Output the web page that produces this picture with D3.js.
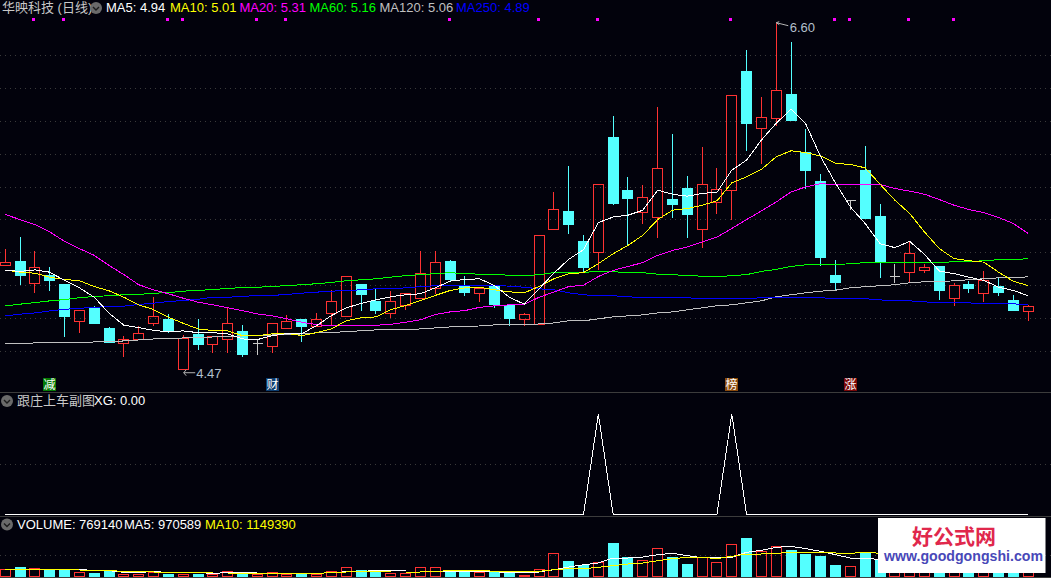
<!DOCTYPE html>
<html>
<head>
<meta charset="utf-8">
<script src="https://cdn.jsdelivr.net/npm/d3@7"></script>
<style>
	html, body { margin: 0; padding: 0; background: #02020c; overflow: hidden; }
	text { font-family: "Liberation Sans", "Noto Sans CJK SC", sans-serif; font-size: 13px; }
</style>
</head>
<body>
<svg id="chart" width="1051" height="578"></svg>
<script>
// daily candles, oldest first
var open = [5.125, 5.146, 5.014, 5.066, 5.006, 4.782, 4.867, 4.744, 4.648, 4.673, 4.770, 4.799, 4.490, 4.706, 4.642, 4.673, 4.726, 4.648, 4.630, 4.740, 4.799, 4.752, 4.831, 4.815, 5.006, 4.908, 4.831, 4.880, 4.922, 4.985, 5.146, 4.999, 4.953, 4.999, 4.878, 4.794, 4.768, 5.342, 5.450, 5.267, 5.202, 5.900, 5.578, 5.446, 5.415, 5.523, 5.590, 5.342, 5.506, 5.576, 6.302, 5.953, 6.014, 6.162, 5.809, 5.631, 5.066, 5.521, 5.699, 5.419, 5.059, 5.080, 5.093, 5.115, 4.922, 5.006, 4.953, 4.998, 4.914, 4.843];
var close = [5.144, 5.060, 5.113, 5.030, 4.817, 4.852, 4.774, 4.657, 4.675, 4.712, 4.813, 4.726, 4.681, 4.647, 4.693, 4.772, 4.586, 4.648, 4.772, 4.785, 4.756, 4.797, 4.906, 5.059, 4.945, 4.853, 4.906, 4.955, 5.077, 5.144, 5.036, 4.957, 4.985, 4.884, 4.805, 4.827, 5.308, 5.466, 5.371, 5.109, 5.618, 5.500, 5.529, 5.539, 5.710, 5.492, 5.432, 5.618, 5.587, 6.154, 5.987, 6.020, 6.184, 6.006, 5.701, 5.172, 5.020, 5.521, 5.409, 5.146, 5.059, 5.199, 5.113, 4.969, 5.004, 4.987, 5.034, 4.959, 4.849, 4.876];
var high = [5.225, 5.298, 5.212, 5.115, 5.006, 4.852, 4.878, 4.754, 4.701, 4.760, 4.933, 4.835, 4.706, 4.805, 4.693, 4.866, 4.768, 4.683, 4.772, 4.829, 4.799, 4.841, 4.981, 5.059, 5.006, 4.985, 4.975, 4.955, 5.212, 5.212, 5.158, 5.066, 4.985, 4.999, 4.878, 4.841, 5.308, 5.572, 5.730, 5.310, 5.618, 6.034, 5.663, 5.614, 6.089, 5.925, 5.669, 5.845, 5.716, 6.154, 6.434, 6.148, 6.60, 6.484, 5.955, 5.681, 5.158, 5.521, 5.852, 5.499, 5.135, 5.272, 5.135, 5.115, 5.022, 5.030, 5.091, 5.059, 4.945, 4.890];
var low = [5.125, 5.006, 4.959, 4.969, 4.695, 4.715, 4.774, 4.657, 4.569, 4.673, 4.758, 4.720, 4.490, 4.616, 4.598, 4.598, 4.573, 4.586, 4.598, 4.740, 4.665, 4.752, 4.768, 4.815, 4.853, 4.831, 4.807, 4.855, 4.922, 4.951, 5.030, 4.939, 4.908, 4.867, 4.762, 4.762, 4.768, 5.342, 5.316, 5.079, 5.097, 5.492, 5.243, 5.379, 5.293, 5.415, 5.293, 5.233, 5.439, 5.405, 5.823, 5.744, 5.973, 6.004, 5.592, 5.125, 4.973, 5.466, 5.409, 5.048, 5.020, 5.020, 5.080, 4.916, 4.878, 4.957, 4.908, 4.939, 4.849, 4.788];

// price moving averages
var ma5 = [5.091, 5.085, 5.094, 5.080, 5.030, 4.985, 4.928, 4.831, 4.758, 4.744, 4.727, 4.718, 4.724, 4.713, 4.713, 4.706, 4.675, 4.671, 4.695, 4.707, 4.707, 4.756, 4.817, 4.864, 4.890, 4.912, 4.931, 4.943, 4.949, 4.985, 5.026, 5.036, 5.040, 4.999, 4.928, 4.886, 4.979, 5.074, 5.158, 5.217, 5.381, 5.415, 5.426, 5.456, 5.578, 5.553, 5.541, 5.558, 5.565, 5.699, 5.760, 5.882, 5.984, 6.069, 5.978, 5.780, 5.620, 5.476, 5.375, 5.253, 5.229, 5.267, 5.188, 5.087, 5.071, 5.050, 5.030, 4.989, 4.969, 4.937];
var ma10 = [5.093, 5.080, 5.074, 5.050, 5.036, 5.028, 4.993, 4.967, 4.928, 4.882, 4.853, 4.807, 4.770, 4.736, 4.726, 4.724, 4.695, 4.695, 4.706, 4.709, 4.695, 4.713, 4.736, 4.786, 4.803, 4.809, 4.852, 4.878, 4.908, 4.939, 4.969, 4.985, 4.989, 4.973, 4.961, 4.955, 4.993, 5.040, 5.071, 5.077, 5.132, 5.192, 5.243, 5.304, 5.399, 5.456, 5.466, 5.486, 5.513, 5.622, 5.659, 5.704, 5.780, 5.817, 5.805, 5.785, 5.740, 5.734, 5.713, 5.614, 5.517, 5.436, 5.324, 5.223, 5.162, 5.150, 5.141, 5.080, 5.024, 4.999];
var ma20 = [5.430, 5.399, 5.369, 5.324, 5.267, 5.223, 5.182, 5.121, 5.065, 5.004, 4.973, 4.949, 4.922, 4.898, 4.882, 4.864, 4.847, 4.827, 4.815, 4.797, 4.776, 4.762, 4.754, 4.754, 4.758, 4.758, 4.764, 4.776, 4.791, 4.823, 4.839, 4.847, 4.867, 4.876, 4.882, 4.884, 4.928, 4.959, 4.993, 5.001, 5.054, 5.091, 5.115, 5.138, 5.182, 5.212, 5.233, 5.263, 5.293, 5.345, 5.399, 5.452, 5.506, 5.567, 5.598, 5.618, 5.610, 5.612, 5.612, 5.612, 5.588, 5.572, 5.553, 5.521, 5.486, 5.460, 5.442, 5.412, 5.375, 5.314];
var ma60 = [4.876, 4.886, 4.896, 4.906, 4.914, 4.925, 4.933, 4.937, 4.943, 4.945, 4.953, 4.955, 4.965, 4.969, 4.975, 4.981, 4.987, 4.989, 4.993, 4.999, 5.004, 5.010, 5.018, 5.028, 5.034, 5.040, 5.050, 5.059, 5.065, 5.071, 5.077, 5.071, 5.068, 5.065, 5.062, 5.059, 5.065, 5.077, 5.080, 5.080, 5.083, 5.083, 5.077, 5.077, 5.068, 5.065, 5.059, 5.056, 5.052, 5.059, 5.065, 5.085, 5.097, 5.115, 5.125, 5.125, 5.125, 5.132, 5.138, 5.138, 5.138, 5.138, 5.138, 5.138, 5.144, 5.144, 5.150, 5.156, 5.156, 5.162];
var ma120 = [4.645, 4.645, 4.651, 4.651, 4.651, 4.651, 4.657, 4.657, 4.663, 4.669, 4.675, 4.675, 4.681, 4.681, 4.687, 4.687, 4.693, 4.693, 4.699, 4.699, 4.706, 4.712, 4.712, 4.721, 4.724, 4.730, 4.730, 4.730, 4.736, 4.742, 4.748, 4.748, 4.754, 4.760, 4.760, 4.760, 4.766, 4.772, 4.785, 4.785, 4.797, 4.809, 4.815, 4.821, 4.833, 4.839, 4.852, 4.864, 4.876, 4.882, 4.894, 4.906, 4.931, 4.943, 4.955, 4.965, 4.971, 4.985, 4.992, 4.998, 5.004, 5.016, 5.022, 5.022, 5.028, 5.034, 5.040, 5.046, 5.046, 5.052];
var ma250 = [4.815, 4.825, 4.833, 4.845, 4.855, 4.861, 4.867, 4.872, 4.874, 4.884, 4.892, 4.902, 4.908, 4.916, 4.928, 4.928, 4.933, 4.939, 4.939, 4.945, 4.953, 4.959, 4.965, 4.969, 4.973, 4.979, 4.979, 4.985, 4.992, 4.998, 5.001, 5.001, 5.001, 5.001, 4.995, 4.989, 4.979, 4.973, 4.955, 4.943, 4.937, 4.937, 4.931, 4.925, 4.925, 4.925, 4.925, 4.919, 4.919, 4.919, 4.919, 4.925, 4.925, 4.925, 4.925, 4.925, 4.919, 4.919, 4.919, 4.912, 4.906, 4.906, 4.900, 4.894, 4.894, 4.894, 4.888, 4.888, 4.888, 4.882];

// the XG sub chart
var xg = [0, 0, 0, 0, 0, 0, 0, 0, 0, 0, 0, 0, 0, 0, 0, 0, 0, 0, 0, 0, 0, 0, 0, 0, 0, 0, 0, 0, 0, 0, 0, 0, 0, 0, 0, 0, 0, 0, 0, 0, 1, 0, 0, 0, 0, 0, 0, 0, 0, 1, 0, 0, 0, 0, 0, 0, 0, 0, 0, 0, 0, 0, 0, 0, 0, 0, 0, 0, 0, 0];

// volume pane
var volume = [770000, 1000000, 870000, 730000, 730000, 470000, 400000, 570000, 330000, 270000, 500000, 330000, 300000, 330000, 270000, 570000, 370000, 300000, 470000, 330000, 330000, 330000, 630000, 970000, 670000, 630000, 430000, 370000, 970000, 970000, 630000, 500000, 470000, 570000, 470000, 230000, 770000, 2370000, 1600000, 1230000, 1470000, 3400000, 1970000, 1670000, 2870000, 2000000, 1300000, 1970000, 1470000, 3270000, 3900000, 2570000, 3070000, 2700000, 2300000, 2100000, 1200000, 1070000, 2500000, 1700000, 1600000, 1700000, 900000, 1500000, 940000, 700000, 1200000, 900000, 1280000, 769140];
var volMa5 = [770000, 770000, 770000, 770000, 770000, 770000, 630000, 630000, 470000, 470000, 530000, 470000, 470000, 430000, 370000, 430000, 470000, 400000, 370000, 370000, 370000, 370000, 430000, 530000, 570000, 630000, 630000, 600000, 600000, 600000, 570000, 570000, 570000, 530000, 430000, 400000, 500000, 730000, 1000000, 1230000, 1400000, 1900000, 1900000, 2000000, 2230000, 2370000, 2130000, 1930000, 1900000, 1970000, 2470000, 2670000, 2970000, 3070000, 2830000, 2570000, 2230000, 1900000, 1900000, 1730000, 1600000, 1500000, 1400000, 1300000, 1350000, 1200000, 1100000, 1050000, 1000000, 970589];
var volMa10 = [730000, 730000, 730000, 730000, 730000, 700000, 670000, 630000, 570000, 530000, 500000, 470000, 430000, 430000, 400000, 400000, 370000, 370000, 370000, 370000, 370000, 370000, 430000, 500000, 530000, 530000, 500000, 500000, 500000, 530000, 670000, 670000, 670000, 570000, 570000, 530000, 570000, 730000, 830000, 830000, 970000, 1130000, 1300000, 1400000, 1630000, 1830000, 1970000, 1970000, 1830000, 2070000, 2300000, 2300000, 2370000, 2470000, 2470000, 2470000, 2400000, 2370000, 2470000, 2370000, 2250000, 2100000, 1950000, 1800000, 1650000, 1500000, 1400000, 1300000, 1220000, 1149390];

var priceTicks = [6.40, 6.20, 6.00, 5.80, 5.60, 5.40, 5.20, 5.00, 4.80, 4.60];
var signalDays = [2, 4, 11, 12, 17, 19, 30, 36, 40, 49, 56, 57, 61, 64];
var eventDays = [3, 18, 49, 57];
var eventNames = ["减", "财", "榜", "涨"];
var eventColors = ["#067a06", "#0c3d70", "#8a4a0c", "#7a0808"];

var BG = "#02020c", RED = "#ff3232", CYAN = "#54ffff", GRID = "#3a3a3a", LINE = "#3c3c3c";

var svg = d3.select("#chart");
svg.append("rect").attr("width", 1051).attr("height", 578).attr("fill", BG);

var x = d3.scaleLinear().domain([0, 69]).range([5.3, 1028.3]);
var y = d3.scaleLinear().domain([6.60, 4.60]).range([21.7, 351.3]);
var yXg = d3.scaleLinear().domain([0, 1]).range([514.5, 414]);
var yVol = d3.scaleLinear().domain([0, 3900000]).range([577, 538]);

function cx(i) {
	return Math.floor(x(i)) + 0.5;
}

function px(v) {
	return Math.round(v) + 0.5;
}

// dotted grid, one axis per pane
function grid(scale, ticks) {
	var g = svg.append("g").call(d3.axisRight(scale).tickValues(ticks).tickSize(1051).tickFormat(""));
	g.select(".domain").remove();
	g.selectAll("line")
		.attr("stroke", GRID)
		.attr("stroke-dasharray", "1 4")
		.attr("shape-rendering", "crispEdges");
}
grid(y, priceTicks);
grid(yXg, [0.5]);
grid(yVol, [2200000]);

// pane separators
[392, 516, 577].forEach(function(v) {
	svg.append("line")
		.attr("x1", 0).attr("x2", 1051)
		.attr("y1", v + 0.5).attr("y2", v + 0.5)
		.attr("stroke", LINE);
});

// candles
var days = d3.range(open.length);
var candle = svg.append("g").attr("shape-rendering", "crispEdges");

days.forEach(function(i) {
	var up = close[i] > open[i],
		flat = close[i] === open[i],
		color = flat ? "#c8c8c8" : (up ? RED : CYAN),
		top = px(y(Math.max(open[i], close[i]))),
		bottom = px(y(Math.min(open[i], close[i])));

	if (px(y(high[i])) < top) {
		candle.append("line")
			.attr("x1", cx(i)).attr("x2", cx(i))
			.attr("y1", px(y(high[i]))).attr("y2", top)
			.attr("stroke", color);
	}
	if (px(y(low[i])) > bottom) {
		candle.append("line")
			.attr("x1", cx(i)).attr("x2", cx(i))
			.attr("y1", bottom).attr("y2", px(y(low[i])))
			.attr("stroke", color);
	}

	if (flat) {
		candle.append("line")
			.attr("x1", cx(i) - 5).attr("x2", cx(i) + 5)
			.attr("y1", top).attr("y2", top)
			.attr("stroke", color);
	} else if (up) {
		candle.append("rect")
			.attr("x", cx(i) - 5).attr("width", 10)
			.attr("y", top).attr("height", bottom - top)
			.attr("fill", "none")
			.attr("stroke", color);
	} else {
		candle.append("rect")
			.attr("x", cx(i) - 5.5).attr("width", 11)
			.attr("y", top - 0.5).attr("height", bottom - top + 1)
			.attr("fill", color);
	}
});

function drawLine(values, scale, color) {
	svg.append("path")
		.attr("d", d3.line()
			.x(function(d, i) { return x(i); })
			.y(function(d) { return scale(d); })(values))
		.attr("fill", "none")
		.attr("stroke", color)
		.attr("stroke-width", 1)
		.attr("shape-rendering", "crispEdges");
}

drawLine(ma120, y, "#c0c0c0");
drawLine(ma250, y, "#0000ff");
drawLine(ma60, y, "#00ff00");
drawLine(ma20, y, "#ff00ff");
drawLine(ma10, y, "#ffff00");
drawLine(ma5, y, "#ffffff");

// signal dots along the top
svg.append("g").selectAll("rect")
	.data(signalDays)
	.join("rect")
	.attr("x", function(d) { return Math.floor(x(d)) - 2; })
	.attr("y", 18)
	.attr("width", 3)
	.attr("height", 3)
	.attr("fill", "#ff00ff");

// event tags above the separator
svg.append("g").selectAll("rect")
	.data(eventDays)
	.join("rect")
	.attr("x", function(d) { return Math.floor(x(d)) - 6; })
	.attr("y", 378)
	.attr("width", 13)
	.attr("height", 13)
	.attr("fill", function(d, i) { return eventColors[i]; });

svg.append("g").selectAll("text")
	.data(eventDays)
	.join("text")
	.attr("x", function(d) { return Math.floor(x(d)) + 0.5; })
	.attr("y", 389)
	.attr("text-anchor", "middle")
	.attr("fill", "#ffffff")
	.style("font-size", "12px")
	.text(function(d, i) { return eventNames[i]; });

// high and low callouts
var hiDay = 52, loDay = 12;
svg.append("path")
	.attr("d", "M" + (x(hiDay) + 3) + " " + y(6.60) + "L" + x(hiDay) + " " + (y(6.60) + 1) + "L" + (x(hiDay) + 3) + " " + (y(6.60) + 3) + "M" + x(hiDay) + " " + (y(6.60) + 1) + "L" + (x(hiDay) + 12) + " " + (y(6.60) + 4))
	.attr("fill", "none")
	.attr("stroke", "#b4b4b4");
svg.append("text")
	.attr("x", x(hiDay) + 13.5).attr("y", y(6.60) + 10.5)
	.attr("fill", "#b4c0cc")
	.text("6.60");
svg.append("path")
	.attr("d", "M" + (x(loDay) + 3) + " " + (y(4.47) - 3) + "L" + (x(loDay) + 0.5) + " " + y(4.47) + "L" + (x(loDay) + 3) + " " + (y(4.47) + 3) + "M" + (x(loDay) + 0.5) + " " + y(4.47) + "L" + (x(loDay) + 12) + " " + y(4.47))
	.attr("fill", "none")
	.attr("stroke", "#b4b4b4");
svg.append("text")
	.attr("x", x(loDay) + 13).attr("y", y(4.47) + 5)
	.attr("fill", "#b4c0cc")
	.text("4.47");

// sub chart
drawLine(xg, yXg, "#ffffff");

// volume bars
var bars = svg.append("g").attr("shape-rendering", "crispEdges");
days.forEach(function(i) {
	var down = close[i] < open[i],
		top = px(yVol(volume[i]));
	if (down) {
		bars.append("rect")
			.attr("x", cx(i) - 5.5).attr("width", 11)
			.attr("y", top - 0.5).attr("height", 577 - top + 0.5)
			.attr("fill", CYAN);
	} else {
		bars.append("rect")
			.attr("x", cx(i) - 5).attr("width", 10)
			.attr("y", top).attr("height", 576.5 - top)
			.attr("fill", "none")
			.attr("stroke", RED);
	}
});
drawLine(volMa5, yVol, "#ffffff");
drawLine(volMa10, yVol, "#ffff00");

// watermark
svg.append("rect")
	.attr("x", 878).attr("y", 518)
	.attr("width", 167.5).attr("height", 55)
	.attr("fill", "#ffffff");
svg.append("text")
	.attr("x", 954).attr("y", 544)
	.attr("text-anchor", "middle")
	.attr("fill", "#e0284c")
	.style("font-weight", "bold")
	.style("font-size", "21px")
	.text("好公式网");
svg.append("text")
	.attr("x", 884).attr("y", 561)
	.attr("textLength", 159)
	.attr("lengthAdjust", "spacingAndGlyphs")
	.attr("fill", "#4848b8")
	.style("font-weight", "bold")
	.style("font-size", "15px")
	.text("www.goodgongshi.com");

// titles
function label(px0, py, color, str) {
	svg.append("text")
		.attr("x", px0).attr("y", py)
		.attr("fill", color)
		.text(str);
}

function toggle(cx0, cy0) {
	svg.append("circle")
		.attr("cx", cx0).attr("cy", cy0).attr("r", 6)
		.attr("fill", "#6a6a6a");
	svg.append("path")
		.attr("d", "M" + (cx0 - 3) + " " + (cy0 - 1) + "L" + cx0 + " " + (cy0 + 2) + "L" + (cx0 + 3) + " " + (cy0 - 1))
		.attr("fill", "none")
		.attr("stroke", "#1c1c1c")
		.attr("stroke-width", 1.4);
}

label(2, 12, "#c8c8c8", "华映科技 (日线)");
toggle(96, 8);
label(106, 12, "#ffffff", "MA5: 4.94");
label(170, 12, "#ffff00", "MA10: 5.01");
label(239.5, 12, "#ff00ff", "MA20: 5.31");
label(309.5, 12, "#00ff00", "MA60: 5.16");
label(379.5, 12, "#c0c0c0", "MA120: 5.06");
label(456, 12, "#0000ff", "MA250: 4.89");

toggle(7, 401);
label(17, 405, "#c8c8c8", "跟庄上车副图");
label(94, 405, "#ffffff", "XG: 0.00");

toggle(7, 524.5);
label(17, 529, "#ffffff", "VOLUME: 769140");
label(124, 529, "#ffffff", "MA5: 970589");
label(205, 529, "#ffff00", "MA10: 1149390");
</script>
</body>
</html>
